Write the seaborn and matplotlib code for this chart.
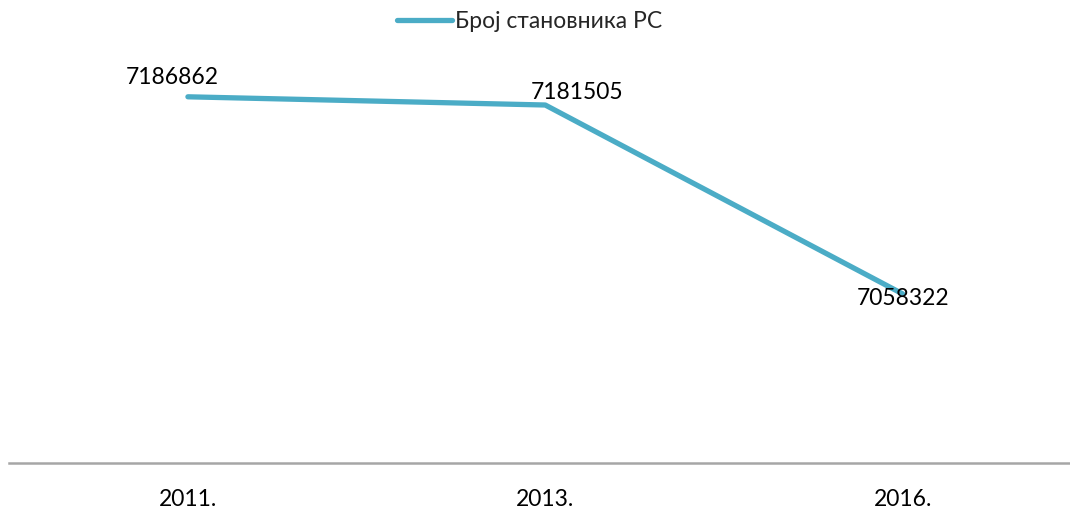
import pandas as pd
import seaborn as sns
import matplotlib
matplotlib.use('Agg')
import matplotlib.pyplot as plt

years = ['2011.', '2013.', '2016.']
population = [7186862, 7181505, 7058322]
series_name = 'Број становника РС'

# label offsets (points) to mimic the manually placed Excel labels
label_offsets = [(-11, 14), (23, 9), (0, -3)]

sns.set_style('white')
plt.rcParams['font.family'] = ['Lato', 'Open Sans', 'DejaVu Sans']

data = pd.DataFrame({'year': years, 'value': population})

fig = plt.figure(figsize=(10.7, 5.12), dpi=100)
ax = fig.add_axes([9.25 / 1070, 49 / 512, 1072 / 1070, 463 / 512])

sns.lineplot(data=data, x='year', y='value', ax=ax, color='#4BACC6',
             linewidth=3.8, sort=False, label=series_name, legend=False)
ax.lines[0].set_solid_capstyle('round')
ax.lines[0].set_solid_joinstyle('round')

for i, (v, off) in enumerate(zip(population, label_offsets)):
    ax.annotate(str(v), (i, v), xytext=off, textcoords='offset points',
                ha='center', va='center', fontsize=16.5, color='black')

ax.set_xlim(-0.5, 2.5)
ax.set_ylim(6948000, 7250000)
ax.set_yticks([])
ax.set_xlabel('')
ax.set_ylabel('')
ax.tick_params(axis='x', length=0, pad=19, labelsize=16.5, colors='black')
for side in ['top', 'left', 'right']:
    ax.spines[side].set_visible(False)
ax.spines['bottom'].set_color('#A6A6A6')
ax.spines['bottom'].set_linewidth(1.8)

handles, labels = ax.get_legend_handles_labels()
fig.legend(handles, labels, loc='center', bbox_to_anchor=(0.495, 1 - 22 / 512),
           frameon=False, fontsize=16.5, handlelength=2.4, handletextpad=0.15)

fig.savefig('out.png', dpi=100)
